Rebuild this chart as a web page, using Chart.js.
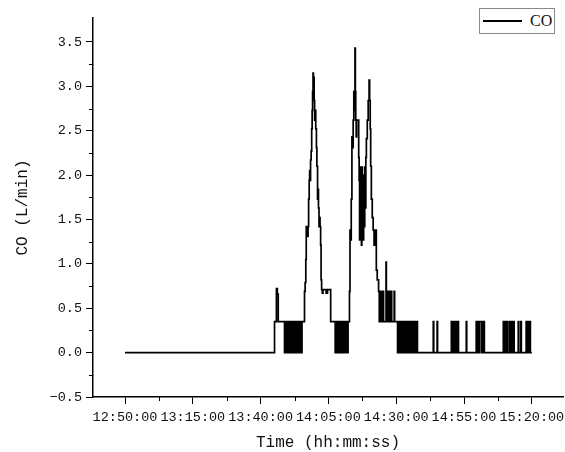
<!DOCTYPE html>
<html>
<head>
<meta charset="utf-8">
<script src="https://cdn.jsdelivr.net/npm/chart.js@4.4.1/dist/chart.umd.min.js"></script>
<style>
  body { margin: 0; background: #fff; }
  #wrap { position: relative; width: 565px; height: 452px; }
  #legend {
    position: absolute; left: 479px; top: 8px; width: 76px; height: 26px;
    box-sizing: border-box; border: 1px solid #8a8a8a; background: #fff;
    display: flex; align-items: center;
    font: 16px 'Liberation Serif', serif; color: #111;
  }
  #legend .swatch { display: inline-block; width: 39px; border-top: 2px solid #000; margin: 0 8px 0 3px; }
</style>
</head>
<body>
<div id="wrap">
  <canvas id="chart"></canvas>
  <div id="legend"><span class="swatch"></span><span>CO</span></div>
</div>
<script>
// tick labels
const xTickLabels = ['12:50:00', '13:15:00', '13:40:00', '14:05:00', '14:30:00', '14:55:00', '15:20:00'];
const xMinorLabels = ['13:02:30', '13:27:30', '13:52:30', '14:17:30', '14:42:30', '15:07:30'];
const yTicks = [-0.5, 0, 0.5, 1, 1.5, 2, 2.5, 3, 3.5];
const yMinor = [-0.25, 0.25, 0.75, 1.25, 1.75, 2.25, 2.75, 3.25];

// CO (L/min) readings, step changes
const times = [
  '12:50:00', '13:45:08', '13:45:50', '13:46:10', '13:46:30',
  // first on/off block
  '13:48:49', '13:49:00', '13:49:20', '13:49:31', '13:49:55', '13:50:05', '13:50:22', '13:50:40', '13:50:52', '13:51:10',
  '13:51:24', '13:51:33', '13:51:50', '13:52:08', '13:52:18', '13:52:30', '13:52:44', '13:53:01', '13:53:12', '13:53:25',
  '13:53:40', '13:53:55', '13:54:08', '13:54:20', '13:54:36', '13:54:50', '13:55:05', '13:55:16',
  // first peak
  '13:56:11', '13:56:25', '13:56:40', '13:56:50', '13:57:00', '13:57:10', '13:57:20', '13:57:30', '13:57:42', '13:57:55',
  '13:58:05', '13:58:15', '13:58:25', '13:58:38', '13:58:50', '13:59:00', '13:59:10', '13:59:20', '13:59:28', '13:59:36',
  '13:59:45', '13:59:55', '14:00:10', '14:00:20', '14:00:35', '14:00:45', '14:01:00', '14:01:10', '14:01:20', '14:01:32',
  '14:01:45', '14:01:55', '14:02:08', '14:02:18', '14:02:30', '14:02:45', '14:03:00', '14:04:10', '14:04:40', '14:05:50',
  // second on/off block
  '14:07:30', '14:07:42', '14:08:00', '14:08:12', '14:08:20', '14:08:35', '14:08:50', '14:09:05', '14:09:40', '14:09:52',
  '14:10:30', '14:10:45', '14:11:00', '14:11:12', '14:11:30', '14:11:44', '14:12:00', '14:12:15',
  // second peak
  '14:12:46', '14:12:58', '14:13:15', '14:13:25', '14:13:40', '14:13:55', '14:14:08', '14:14:22', '14:14:35', '14:14:48',
  '14:14:56', '14:15:05', '14:15:15', '14:15:25', '14:16:10', '14:16:20', '14:16:30', '14:16:40', '14:16:50', '14:17:00',
  '14:17:10', '14:17:20', '14:17:30', '14:17:40', '14:17:50', '14:18:00', '14:18:12', '14:18:24', '14:18:36', '14:18:48',
  '14:19:00', '14:19:20', '14:19:40', '14:20:00', '14:20:12', '14:20:25', '14:20:35', '14:20:50', '14:21:10', '14:21:30',
  '14:21:50', '14:22:20', '14:22:40', '14:23:00', '14:23:30',
  // tail
  '14:23:45', '14:24:00', '14:24:20', '14:24:35', '14:24:50', '14:25:10', '14:25:20', '14:26:15', '14:26:22', '14:26:50',
  '14:27:05', '14:27:30', '14:27:40', '14:28:10', '14:28:20', '14:29:15', '14:29:25',
  // third on/off block
  '14:30:30', '14:30:45', '14:31:00', '14:31:10', '14:31:20', '14:31:38', '14:31:50', '14:32:05', '14:32:15', '14:32:30',
  '14:32:45', '14:33:00', '14:33:10', '14:33:25', '14:33:40', '14:33:52', '14:34:05', '14:34:20', '14:34:40', '14:34:50',
  '14:35:15', '14:35:25', '14:35:50', '14:36:00', '14:36:30', '14:36:40', '14:37:10', '14:37:20', '14:37:50',
  // isolated pulses
  '14:43:40', '14:43:50', '14:45:05', '14:45:15',
  '14:50:20', '14:50:35', '14:50:45', '14:51:10', '14:51:20', '14:51:50', '14:52:00', '14:52:30', '14:52:40', '14:52:58',
  '14:55:50', '14:56:00',
  '14:59:30', '14:59:45', '15:00:00', '15:00:30', '15:00:45', '15:01:30', '15:01:40', '15:02:00', '15:02:10', '15:02:30',
  '15:09:30', '15:09:45', '15:10:05', '15:10:15', '15:10:45', '15:10:58',
  '15:11:40', '15:11:55', '15:12:10', '15:12:25', '15:13:00', '15:13:30',
  '15:15:00', '15:15:10', '15:15:55', '15:16:08',
  '15:17:55', '15:18:10', '15:18:30', '15:18:45', '15:19:15', '15:19:28',
  '15:20:00'
];
const co = [
  0, 0.35, 0.72, 0.66, 0.35,
  0, 0.35, 0, 0.35, 0, 0.35, 0, 0.35, 0, 0.35,
  0, 0.35, 0, 0.35, 0, 0.35, 0, 0.35, 0, 0.35,
  0, 0.35, 0, 0.35, 0, 0.35, 0, 0.35,
  0.69, 0.79, 1.05, 1.42, 1.31, 1.42, 1.31, 1.42, 1.73, 1.94,
  2.05, 1.94, 2.17, 2.27, 2.52, 2.73, 2.94, 3.15, 2.94, 3.10,
  2.84, 2.62, 2.73, 2.52, 2.31, 2.10, 1.73, 1.84, 1.63, 1.42,
  1.52, 1.42, 1.21, 0.82, 0.71, 0.67, 0.71, 0.67, 0.71, 0.35,
  0, 0.35, 0, 0.35, 0, 0.35, 0, 0.35, 0, 0.35,
  0, 0.35, 0, 0.35, 0, 0.35, 0, 0.35,
  0.69, 1.38, 1.27, 1.73, 2.43, 2.31, 2.62, 2.94, 2.73, 3.43,
  2.94, 2.62, 2.43, 2.62, 2.20, 1.94, 1.27, 2.09, 1.38, 1.94,
  1.21, 2.09, 1.52, 1.84, 1.27, 2.00, 1.42, 2.09, 1.63, 2.20,
  2.41, 2.62, 2.84, 3.07, 2.84, 2.52, 2.10, 1.73, 1.52, 1.38,
  1.21, 1.38, 0.93, 0.82, 0.69,
  0.35, 0.69, 0.35, 0.69, 0.35, 0.69, 0.35, 1.02, 0.35, 0.69,
  0.35, 0.69, 0.35, 0.69, 0.35, 0.69, 0.35,
  0, 0.35, 0, 0.35, 0, 0.35, 0, 0.35, 0, 0.35,
  0, 0.35, 0, 0.35, 0, 0.35, 0, 0.35, 0, 0.35,
  0, 0.35, 0, 0.35, 0, 0.35, 0, 0.35, 0,
  0.35, 0, 0.35, 0,
  0.35, 0, 0.35, 0, 0.35, 0, 0.35, 0, 0.35, 0,
  0.35, 0,
  0.35, 0, 0.35, 0, 0.35, 0, 0.35, 0, 0.35, 0,
  0.35, 0, 0.35, 0, 0.35, 0,
  0.35, 0, 0.35, 0, 0.35, 0,
  0.35, 0, 0.35, 0,
  0.35, 0, 0.35, 0, 0.35, 0,
  0
];

// 'hh:mm:ss' -> minutes since midnight
function toMin(t) {
  const [h, m, s] = t.split(':').map(Number);
  return h * 60 + m + s / 60;
}

const tickFont = { family: 'Liberation Mono', size: 13.5 };
const titleFont = { family: 'Liberation Mono', size: 16 };

// small unlabeled ticks between the major ones
const minorTicks = {
  id: 'minorTicks',
  afterDraw(chart) {
    const { ctx, chartArea, scales: { x, y } } = chart;
    ctx.save();
    ctx.strokeStyle = '#000';
    ctx.lineWidth = 1;
    ctx.beginPath();
    yMinor.forEach(v => {
      const py = Math.round(y.getPixelForValue(v)) + 0.5;
      ctx.moveTo(chartArea.left - 4, py);
      ctx.lineTo(chartArea.left, py);
    });
    xMinorLabels.forEach(t => {
      const px = Math.round(x.getPixelForValue(toMin(t))) + 0.5;
      ctx.moveTo(px, chartArea.bottom);
      ctx.lineTo(px, chartArea.bottom + 4);
    });
    ctx.stroke();
    ctx.restore();
  }
};

Chart.defaults.color = '#111';

new Chart(document.getElementById('chart'), {
  type: 'line',
  data: {
    datasets: [{
      label: 'CO',
      data: times.map((t, i) => ({ x: toMin(t), y: co[i] })),
      borderColor: '#000',
      borderWidth: 1.7,
      pointRadius: 0,
      stepped: true,
      fill: false
    }]
  },
  options: {
    responsive: true,
    maintainAspectRatio: false,
    animation: false,
    layout: { padding: { top: 18, right: 2, left: 0, bottom: 0 } },
    plugins: {
      legend: { display: false },
      tooltip: { enabled: false }
    },
    scales: {
      x: {
        type: 'linear',
        min: toMin('12:38:12'),
        max: toMin('15:31:30'),
        afterBuildTicks: s => { s.ticks = xTickLabels.map(t => ({ value: toMin(t) })); },
        afterFit: s => { s.height = 55; s.paddingLeft = 0; s.paddingRight = 0; },
        ticks: {
          font: tickFont,
          autoSkip: false,
          maxRotation: 0,
          padding: 5,
          callback: (v, i) => xTickLabels[i]
        },
        grid: { drawOnChartArea: false, tickLength: 7, color: '#000' },
        border: { display: true, color: '#000', width: 1.5 },
        title: { display: true, text: 'Time (hh:mm:ss)', font: titleFont, padding: { top: 0, bottom: 0 } }
      },
      y: {
        min: -0.5,
        max: 3.77,
        afterBuildTicks: s => { s.ticks = yTicks.map(v => ({ value: v })); },
        afterFit: s => { s.width = 93; s.paddingTop = 0; s.paddingBottom = 0; },
        ticks: {
          font: tickFont,
          padding: 4,
          callback: v => (v < 0 ? '\u2212' : '') + Math.abs(v).toFixed(1)
        },
        grid: { drawOnChartArea: false, tickLength: 7, color: '#000' },
        border: { display: true, color: '#000', width: 1.5 },
        title: { display: true, text: 'CO (L/min)', font: titleFont, padding: { top: 13, bottom: 0 } }
      }
    }
  },
  plugins: [minorTicks]
});
</script>
</body>
</html>
